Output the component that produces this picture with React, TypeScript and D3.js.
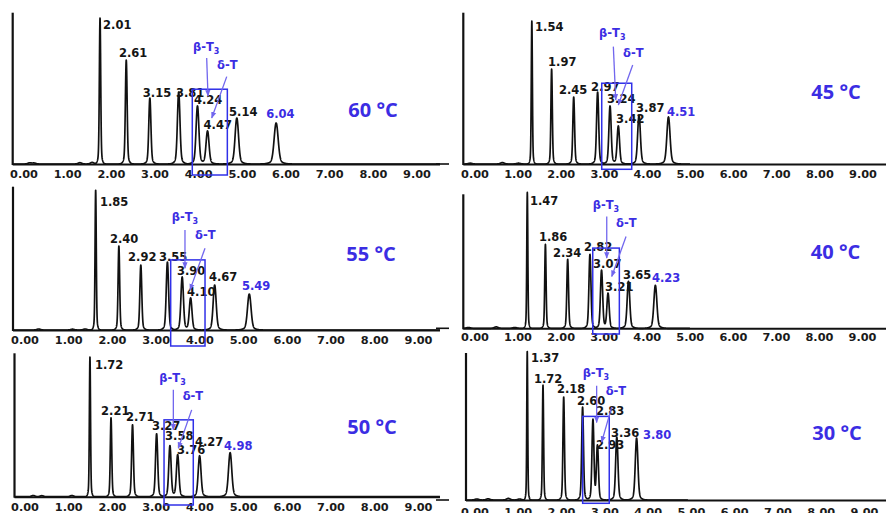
import React from 'react';
import * as d3 from 'd3';

const W = 886;
const H = 513;

// ---- data ----
const TICKS = [0, 1, 2, 3, 4, 5, 6, 7, 8, 9];
const TEMPS = ['60 °C', '45 °C', '55 °C', '40 °C', '50 °C', '30 °C'];

const RT_60 = [2.01, 2.61, 3.15, 3.81, 4.24, 4.47, 5.14, 6.04];
const H_60 = [146, 104, 66, 72, 58, 33, 46, 41];
const RT_45 = [1.54, 1.97, 2.45, 2.97, 3.24, 3.42, 3.87, 4.51];
const H_45 = [143, 95, 67, 72, 58, 38, 49, 47];
const RT_55 = [1.85, 2.4, 2.92, 3.55, 3.9, 4.1, 4.67, 5.49];
const H_55 = [140, 84, 65, 68, 53, 32, 45, 36];
const RT_40 = [1.47, 1.86, 2.34, 2.82, 3.07, 3.21, 3.65, 4.23];
const H_40 = [136, 84, 69, 74, 58, 35, 47, 43];
const RT_50 = [1.72, 2.21, 2.71, 3.27, 3.58, 3.76, 4.27, 4.98];
const H_50 = [140, 79, 72, 63, 51, 42, 41, 44];
const RT_30 = [1.37, 1.72, 2.18, 2.6, 2.83, 2.93, 3.36, 3.8];
const H_30 = [149, 115, 103, 93, 80, 54, 63, 62];

// small baseline disturbances [time, height]
const MINOR_60 = [[0.4, 1.2], [0.5, 1.0], [1.55, 1.3], [1.83, 1.6]];
const MINOR_45 = [[0.2, 0.8], [0.9, 1.4], [1.25, 0.8]];
const MINOR_55 = [[0.5, 1.0], [1.3, 0.8], [1.6, 1.0]];
const MINOR_40 = [[0.2, 0.8], [0.8, 1.4], [1.2, 0.8]];
const MINOR_50 = [[0.4, 1.2], [0.6, 1.0], [1.3, 1.2]];
const MINOR_30 = [[0.25, 1.0], [0.5, 1.2], [0.95, 1.6], [1.2, 1.0]];

const BETA_IDX = 4;
const DELTA_IDX = 5;
const SQRT_PLATES = 135; // sigma = rt / sqrt(N)

// ---- layout (styles / positions) ----
const LBL_60 = [[3, 7], [-7.3, -7], [-7, -5], [-2.7, 1], [-3.5, -6], [-4, -6], [-7.8, -6], [-10, -9.5]];
const LBL_45 = [[3.2, 5.7], [-3.6, -7.3], [-14.7, -7], [-6.6, -4.7], [-3, -6.7], [-2.3, -6.7], [-3, -6.7], [-1.5, -5.3]];
const LBL_55 = [[4.3, 12.3], [-8.9, -6.7], [-12.8, -7.7], [-8.4, -5.3], [-5.2, -6.3], [-3.6, -6.3], [-5.7, -7.7], [-7.3, -8]];
const LBL_40 = [[2.7, 9], [-6.4, -7.6], [-14.7, -6.6], [-6, -7], [-8.5, -6], [-3, -6], [-5.5, -6.3], [-3.4, -7]];
const LBL_50 = [[5, 8.3], [-10, -7], [-6.5, -7.4], [-4.6, -7.7], [-4.9, -9.7], [-0.7, -4.7], [-4.6, -14], [-6.1, -6.7]];
const LBL_30 = [[3.7, 7.3], [-9, -5.7], [-6.7, -7.7], [-5.6, -6], [3, -8.3], [-1.5, 0], [-5.8, -4.3], [6.4, -3]];

// annotation offsets relative to beta/delta apex
type Ann = {
  beta: [number, number]; delta: [number, number];
  arB: [number, number, number, number]; arD: [number, number, number, number];
  rect: [number, number, number, number];
};
const ANN: Ann[] = [
  { beta: [-4.5, -59], delta: [9.5, -66], arB: [9.2, -48, 10.5, -10], arD: [19.2, -54.3, 4.2, -13], rect: [-5.2, 19.8, -16.7, 11] },
  { beta: [-11, -73], delta: [4.7, -73], arB: [3.3, -59.3, 5.7, -6], arD: [14.4, -61, 0, -21], rect: [-8.3, 13.4, -22.7, 5.3] },
  { beta: [-10.5, -60.3], delta: [4.4, -63], arB: [2.8, -47, 2.8, -8.7], arD: [14.4, -49.7, -0.6, -8], rect: [-11.5, 14.4, -17, 16] },
  { beta: [-8.8, -65.3], delta: [8, -70], arB: [5.2, -53.6, 5.2, -12], arD: [18, -56.6, 3.7, -16.6], rect: [-8.8, 11.3, -22, 5.7] },
  { beta: [-10.6, -67.4], delta: [5, -59], arB: [3.4, -55.7, 3.4, -15.7], arD: [14, -44.7, 0.6, -6.4], rect: [-5.9, 15.6, -25.7, 8.3] },
  { beta: [-10.3, -46.7], delta: [8.2, -53.7], arB: [3.7, -33.3, 3.7, 3.3], arD: [14.2, -37.7, 4.2, -2.7], rect: [-10.3, 11.8, -2.7, 3.3] },
];

type Geo = {
  yAxisX: number; yAxisTop: number; base: number; a: number; b: number;
  axisEnd: number; traceEndX: number; c0: number; c9: number; tickY: number;
  tempX: number; tempY: number; stub: boolean;
};
const GEO: Geo[] = [
  { yAxisX: 12.7, yAxisTop: 12.7, base: 164, a: 12.2, b: 43.7, axisEnd: 440, traceEndX: 440, c0: 24, c9: 417, tickY: 174, tempX: 373, tempY: 110, stub: false },
  { yAxisX: 463.3, yAxisTop: 12.7, base: 164, a: 461, b: 46, axisEnd: 886, traceEndX: 690, c0: 475, c9: 863, tickY: 173.5, tempX: 836, tempY: 91.7, stub: true },
  { yAxisX: 13, yAxisTop: 186.7, base: 330, a: 17.6, b: 42.2, axisEnd: 440, traceEndX: 440, c0: 25, c9: 418.5, tickY: 340, tempX: 371, tempY: 253.3, stub: false },
  { yAxisX: 463.3, yAxisTop: 194.3, base: 328.3, a: 459.1, b: 46.4, axisEnd: 886, traceEndX: 690, c0: 475, c9: 862.5, tickY: 337, tempX: 835.5, tempY: 251.7, stub: true },
  { yAxisX: 14.5, yAxisTop: 353.3, base: 496.7, a: 16, b: 43, axisEnd: 440, traceEndX: 440, c0: 25, c9: 418.5, tickY: 507, tempX: 372, tempY: 426.7, stub: false },
  { yAxisX: 466, yAxisTop: 353, base: 500, a: 465.6, b: 45, axisEnd: 886, traceEndX: 688, c0: 475, c9: 864.5, tickY: 512, tempX: 837, tempY: 432.7, stub: true },
];

const PANELS = [
  { rt: RT_60, h: H_60, minor: MINOR_60, lbl: LBL_60 },
  { rt: RT_45, h: H_45, minor: MINOR_45, lbl: LBL_45 },
  { rt: RT_55, h: H_55, minor: MINOR_55, lbl: LBL_55 },
  { rt: RT_40, h: H_40, minor: MINOR_40, lbl: LBL_40 },
  { rt: RT_50, h: H_50, minor: MINOR_50, lbl: LBL_50 },
  { rt: RT_30, h: H_30, minor: MINOR_30, lbl: LBL_30 },
];

const BLUE_TEXT = '#3b2de3';
const BLUE_RECT = '#3030e8';
const ARROW = '#7166ee';
const LABEL_FONT = '"DejaVu Sans", Verdana, sans-serif';
const TEMP_FONT = '"Open Sans", "Noto Sans", sans-serif';

function Panel({ i }: { i: number }) {
  const g = GEO[i];
  const d = PANELS[i];
  const ann = ANN[i];
  const x = d3.scaleLinear().domain([0, 10]).range([g.a, g.a + 10 * g.b]);
  const y = d3.scaleLinear().domain([0, 150]).range([g.base, g.base - 150]);
  const xl = d3.scaleLinear().domain([0, 9]).range([g.c0, g.c9]);

  const signal = (t: number) => {
    let s = 0;
    d.rt.forEach((rt, k) => {
      const sg = rt / SQRT_PLATES;
      s += d.h[k] * 0.92 * Math.exp(-0.5 * ((t - rt) / sg) ** 2);
      // broader foot
      s += d.h[k] * 0.08 * Math.exp(-0.5 * ((t - rt) / (sg * 2.6)) ** 2);
    });
    d.minor.forEach(([mt, mh]) => {
      s += mh * Math.exp(-0.5 * ((t - mt) / 0.04) ** 2);
    });
    return s;
  };
  const t0 = x.invert(g.yAxisX);
  const t1 = x.invert(g.traceEndX);
  const pts: [number, number][] = d3.range(t0, t1, 0.002).map((t) => [t, signal(t)]);
  const line = d3.line<[number, number]>().x((p) => x(p[0])).y((p) => y(p[1]));

  const apexY = (k: number) => y(signal(d.rt[k]));
  const xb = x(d.rt[BETA_IDX]);
  const yb = apexY(BETA_IDX);
  const xd = x(d.rt[DELTA_IDX]);
  const yd = apexY(DELTA_IDX);
  const last = d.rt.length - 1;

  return (
    <g>
      {g.stub && (
        <line x1={436} x2={449} y1={g.base} y2={g.base} stroke="#111" strokeWidth={1.6} />
      )}
      <line x1={g.yAxisX} x2={g.axisEnd} y1={g.base + 0.5} y2={g.base + 0.5} stroke="#111" strokeWidth={2} />
      <line x1={g.yAxisX} x2={g.yAxisX} y1={g.yAxisTop} y2={g.base + 1} stroke="#111" strokeWidth={2.2} />
      <path d={line(pts) || ''} fill="none" stroke="#111" strokeWidth={1.7} strokeLinejoin="round" />

      {TICKS.map((t) => (
        <text key={t} x={xl(t)} y={g.tickY} dy="0.36em" textAnchor="middle"
          fontFamily={LABEL_FONT} fontWeight="bold" fontSize={11.3} fill="#1a1a1a">
          {t.toFixed(2)}
        </text>
      ))}

      {d.rt.map((rt, k) => (
        <text key={k} x={x(rt) + d.lbl[k][0]} y={apexY(k) + d.lbl[k][1]} dy="0.36em"
          fontFamily={LABEL_FONT} fontWeight="bold" fontSize={11.5}
          fill={k === last ? BLUE_TEXT : '#151515'}>
          {rt.toFixed(2)}
        </text>
      ))}

      <rect x={xb + ann.rect[0]} y={yb + ann.rect[2]} width={xd + ann.rect[1] - (xb + ann.rect[0])}
        height={g.base + ann.rect[3] - (yb + ann.rect[2])} fill="none" stroke={BLUE_RECT} strokeWidth={1.5} />

      <line x1={xb + ann.arB[0]} y1={yb + ann.arB[1]} x2={xb + ann.arB[2]} y2={yb + ann.arB[3]}
        stroke={ARROW} strokeWidth={1.3} markerEnd="url(#ah)" />
      <line x1={xd + ann.arD[0]} y1={yd + ann.arD[1]} x2={xd + ann.arD[2]} y2={yd + ann.arD[3]}
        stroke={ARROW} strokeWidth={1.3} markerEnd="url(#ah)" />

      <text x={xb + ann.beta[0]} y={yb + ann.beta[1]} dy="0.36em" fontFamily={LABEL_FONT}
        fontWeight="bold" fontSize={11.5} fill={BLUE_TEXT}>
        β-T<tspan fontSize={8} dy="3">3</tspan>
      </text>
      <text x={xd + ann.delta[0]} y={yd + ann.delta[1]} dy="0.36em" fontFamily={LABEL_FONT}
        fontWeight="bold" fontSize={11.5} fill={BLUE_TEXT}>
        δ-T
      </text>

      <text x={g.tempX} y={g.tempY} dy="0.36em" textAnchor="middle" fontFamily={TEMP_FONT}
        fontWeight="bold" fontSize={20} fill={BLUE_TEXT}>
        {TEMPS[i]}
      </text>
    </g>
  );
}

export default function App() {
  return (
    <svg width={W} height={H} viewBox={`0 0 ${W} ${H}`}
      style={{ position: 'absolute', left: 0, top: 0, background: '#fff' }}>
      <defs>
        <marker id="ah" viewBox="0 0 10 10" refX="9" refY="5" markerWidth="5" markerHeight="5" orient="auto">
          <path d="M0,1 L10,5 L0,9 z" fill={ARROW} />
        </marker>
      </defs>
      <rect width={W} height={H} fill="#fff" />
      {PANELS.map((_, i) => <Panel key={i} i={i} />)}
    </svg>
  );
}
